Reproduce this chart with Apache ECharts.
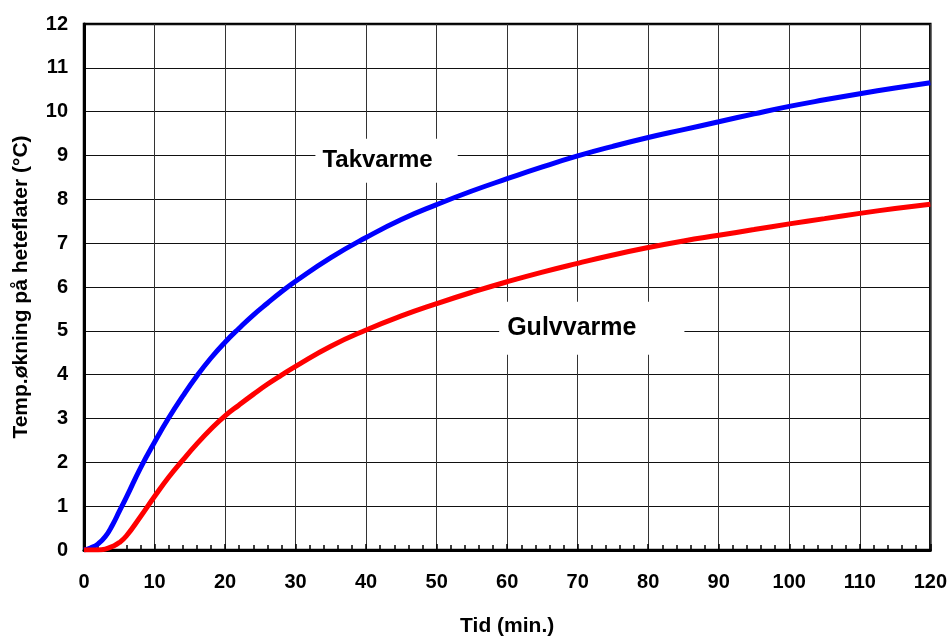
<!DOCTYPE html>
<html>
<head>
<meta charset="utf-8">
<script src="https://cdn.jsdelivr.net/npm/echarts@6/dist/echarts.min.js"></script>
<style>
html,body{margin:0;padding:0;background:#fff;}
#chart{width:950px;height:642px;}
</style>
</head>
<body>
<div id="chart"></div>
<script>
// Time (min.)
const tid = [0, 1, 2, 3, 4, 5, 6, 8, 10, 12, 14, 16, 18, 20, 22, 24, 26, 28, 30, 35, 40, 45, 50, 55, 60, 65, 70, 75, 80, 85, 90, 95, 100, 105, 110, 115, 120];
// Takvarme (ceiling heating)
const takvarme = [0, 0.05, 0.14, 0.3, 0.56, 0.88, 1.2, 1.87, 2.46, 3.01, 3.51, 3.97, 4.38, 4.74, 5.06, 5.36, 5.63, 5.89, 6.13, 6.67, 7.13, 7.54, 7.88, 8.19, 8.47, 8.74, 8.99, 9.21, 9.41, 9.59, 9.77, 9.95, 10.12, 10.27, 10.41, 10.54, 10.66];
// Gulvvarme (floor heating)
const gulvvarme = [0, 0, 0, 0.02, 0.08, 0.17, 0.32, 0.76, 1.22, 1.66, 2.05, 2.42, 2.76, 3.06, 3.31, 3.55, 3.78, 3.99, 4.19, 4.65, 5.02, 5.34, 5.62, 5.88, 6.12, 6.34, 6.54, 6.73, 6.9, 7.05, 7.18, 7.31, 7.44, 7.56, 7.68, 7.79, 7.89];
// Annotation labels: [text, x, y]
const labelTak = ['Takvarme', 42.9, 8.88];
const labelGulv = ['Gulvvarme', 72.0, 5.06];

const xTicks = [0, 10, 20, 30, 40, 50, 60, 70, 80, 90, 100, 110, 120];
const yTicks = [0, 1, 2, 3, 4, 5, 6, 7, 8, 9, 10, 11, 12];

const pairs = (ys) => tid.map((t, i) => [t, ys[i]]);
const FONT = 'Liberation Sans, Arial, sans-serif';

const chart = echarts.init(document.getElementById('chart'), null, {renderer: 'canvas'});
chart.setOption({
  animation: false,
  backgroundColor: '#fff',
  grid: {left: 84, right: 19, top: 24, bottom: 89, show: true, borderColor: '#000', borderWidth: 2.5, containLabel: false},
  xAxis: {
    type: 'value', min: xTicks[0], max: xTicks[xTicks.length - 1], interval: 10,
    name: 'Tid (min.)', nameLocation: 'middle', nameGap: 66,
    nameTextStyle: {fontFamily: FONT, fontWeight: 'bold', fontSize: 21, color: '#000'},
    axisLine: {show: true, onZero: false, lineStyle: {color: '#000', width: 3}},
    axisTick: {show: true, inside: true, length: 6, lineStyle: {color: '#000', width: 1.5}},
    minorTick: {show: true, splitNumber: 5, length: 5, lineStyle: {color: '#000', width: 1.5}},
    axisLabel: {fontFamily: FONT, fontWeight: 'bold', fontSize: 20, color: '#000', margin: 22},
    splitLine: {show: true, lineStyle: {color: '#333', width: 1}}
  },
  yAxis: {
    type: 'value', min: yTicks[0], max: yTicks[yTicks.length - 1], interval: 1,
    name: 'Temp.økning på heteflater (°C)', nameLocation: 'middle', nameGap: 52,
    nameTextStyle: {fontFamily: FONT, fontWeight: 'bold', fontSize: 21, color: '#000'},
    axisLine: {show: true, onZero: false, lineStyle: {color: '#000', width: 3}},
    axisTick: {show: false},
    axisLabel: {fontFamily: FONT, fontWeight: 'bold', fontSize: 20, color: '#000', margin: 16},
    splitLine: {show: true, lineStyle: {color: '#111', width: 1}}
  },
  series: [
    {
      name: 'Takvarme', type: 'line', data: pairs(takvarme), smooth: 0.5,
      symbol: 'none', lineStyle: {color: '#0000ff', width: 5}, z: 3,
      markPoint: {
        symbol: 'rect', symbolSize: [1, 1], itemStyle: {color: 'rgba(0,0,0,0)'},
        data: [{coord: [labelTak[1], labelTak[2]], value: labelTak[0]}],
        label: {
          show: true, position: 'inside', formatter: labelTak[0],
          fontFamily: FONT, fontWeight: 'bold', fontSize: 24, color: '#000',
          backgroundColor: '#fff', padding: [10, 25, 10, 7]
        }
      }
    },
    {
      name: 'Gulvvarme', type: 'line', data: pairs(gulvvarme), smooth: 0.5,
      symbol: 'none', lineStyle: {color: '#ff0000', width: 5}, z: 3,
      markPoint: {
        symbol: 'rect', symbolSize: [1, 1], itemStyle: {color: 'rgba(0,0,0,0)'},
        data: [{coord: [labelGulv[1], labelGulv[2]], value: labelGulv[0]}],
        label: {
          show: true, position: 'inside', formatter: labelGulv[0],
          fontFamily: FONT, fontWeight: 'bold', fontSize: 25, color: '#000',
          backgroundColor: '#fff', padding: [14, 48, 14, 8]
        }
      }
    }
  ]
});
</script>
</body>
</html>
